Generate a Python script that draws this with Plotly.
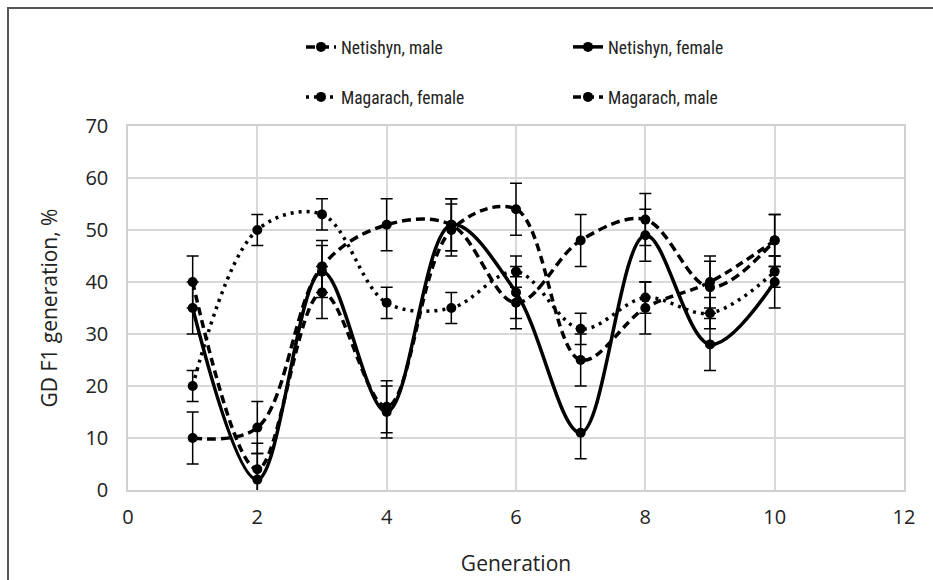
import plotly.graph_objects as go

generation = [1, 2, 3, 4, 5, 6, 7, 8, 9, 10]
net_male = [10, 12, 43, 51, 51, 36, 48, 52, 39, 48]
net_female = [35, 2, 42, 15, 51, 38, 11, 49, 28, 40]
mag_female = [20, 50, 53, 36, 35, 42, 31, 37, 34, 42]
mag_male = [40, 4, 38, 16, 50, 54, 25, 35, 40, 48]
err_net_male = [5] * 10
err_net_female = [5] * 10
err_mag_female = [3] * 10
err_mag_male = [5] * 10

x_ticks = [0, 2, 4, 6, 8, 10, 12]
y_ticks = [0, 10, 20, 30, 40, 50, 60, 70]

fig = go.Figure()

def add(name, y, err, dash, width, legend):
    fig.add_trace(go.Scatter(
        x=generation, y=y, name=name, mode="lines+markers",
        line=dict(color="black", width=width, dash=dash, shape="spline", smoothing=1.0),
        marker=dict(color="black", size=10, symbol="circle"),
        error_y=dict(type="data", array=err, visible=True, color="black", thickness=1.5, width=6),
        legend=legend,
    ))

add("Netishyn, male", net_male, err_net_male, "9px,5px", 3.5, "legend")
add("Netishyn, female", net_female, err_net_female, "solid", 3.5, "legend")
add("Magarach, female", mag_female, err_mag_female, "3px,5px", 3.5, "legend2")
add("Magarach, male", mag_male, err_mag_male, "8px,5px", 3.5, "legend2")

L, R, T, B = 128, 29, 126, 90
W, H = 933, 580
pw, ph = W - L - R, H - T - B

def px(x):
    return (x - L) / pw

def py(y):
    return (H - B - y) / ph

legfont = dict(family="Liberation Sans Narrow, Roboto Condensed, Arial Narrow, sans-serif", size=17.5, color="#222")

fig.update_layout(
    width=W, height=H,
    margin=dict(l=L, r=R, t=T, b=B),
    paper_bgcolor="white", plot_bgcolor="white",
    font=dict(family="Open Sans, sans-serif", size=20, color="#222"),
    legend=dict(orientation="h", x=px(301), y=py(47), xanchor="left", yanchor="middle",
                font=legfont, entrywidth=222, bgcolor="rgba(0,0,0,0)"),
    legend2=dict(orientation="h", x=px(301), y=py(97), xanchor="left", yanchor="middle",
                 font=legfont, entrywidth=222, bgcolor="rgba(0,0,0,0)"),
    xaxis=dict(range=[0, 12], tickvals=x_ticks, showgrid=True, gridcolor="#d9d9d9", gridwidth=1.5,
               showline=True, linecolor="#d0d0d0", linewidth=1.5, mirror=True, zeroline=False,
               ticks="", ticklabelstandoff=8, automargin=False,
               title=dict(text="Generation", standoff=28, font=dict(size=21))),
    yaxis=dict(range=[0, 70], tickvals=y_ticks, showgrid=True, gridcolor="#d9d9d9", gridwidth=1.5,
               showline=True, linecolor="#d0d0d0", linewidth=1.5, mirror=True, zeroline=False,
               ticks="", ticklabelstandoff=14, automargin=False,
               title=dict(text="GD F1 generation, %", standoff=22, font=dict(size=21))),
    shapes=[dict(type="rect", xref="paper", yref="paper",
                 x0=px(8), x1=px(960), y0=py(8), y1=py(620),
                 line=dict(color="#555", width=2), fillcolor="rgba(0,0,0,0)")],
)

fig.write_html("out.html")
